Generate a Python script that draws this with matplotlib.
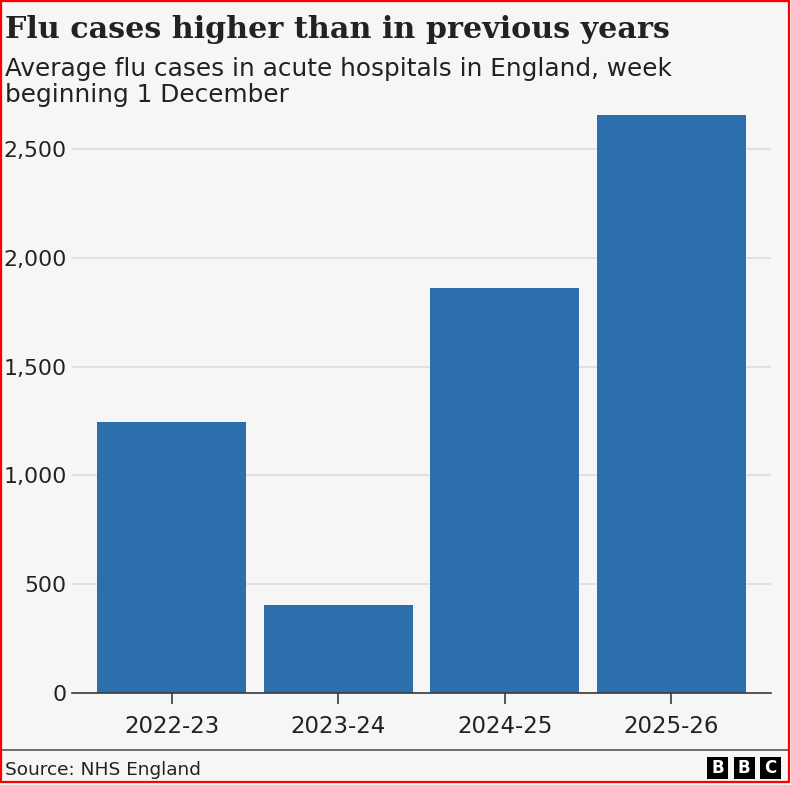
import matplotlib.pyplot as plt
from matplotlib.patches import Rectangle
from matplotlib.ticker import FuncFormatter

# data
seasons = ['2022-23', '2023-24', '2024-25', '2025-26']
cases = [1245, 404, 1861, 2656]
yticks = [0, 500, 1000, 1500, 2000, 2500]

W, H = 791, 785
fig = plt.figure(figsize=(W / 100, H / 100), dpi=100)
fig.patch.set_facecolor('white')

# light grey card with red frame
fig.patches.append(Rectangle((0, 0), 789 / W, 1, transform=fig.transFigure,
                             facecolor='#f6f6f6', edgecolor='none', zorder=-2))
fig.patches.append(Rectangle((1 / W, 3 / H), 787.5 / W, 781 / H, transform=fig.transFigure,
                             facecolor='none', edgecolor='#ff0000', lw=1.6, zorder=10))

ax = fig.add_axes([72 / W, 1 - 693 / H, (771 - 72) / W, (693 - 105.5) / H])
ax.set_facecolor('none')

x = range(len(seasons))
ax.bar(x, cases, width=0.894, color='#2d6ead', zorder=3)

ax.set_xlim(-0.6, 3.6)
ax.set_ylim(0, 2700)
ax.set_yticks(yticks)
ax.yaxis.set_major_formatter(FuncFormatter(lambda v, p: f'{int(v):,}'))
ax.set_xticks(list(x))
ax.set_xticklabels(seasons)

ax.grid(axis='y', color='#dcdcdc', lw=1.2, zorder=0)
for s in ['top', 'right', 'left']:
    ax.spines[s].set_visible(False)
ax.spines['bottom'].set_color('#3a3a3a')
ax.spines['bottom'].set_linewidth(1.2)
ax.spines['bottom'].set_zorder(4)

ax.tick_params(axis='y', length=0, pad=4, labelsize=15.8, labelcolor='#222222')
ax.tick_params(axis='x', length=8, width=1.2, color='#3a3a3a', pad=8,
               labelsize=16.5, labelcolor='#222222')

# titles
fig.text(5 / W, 1 - 38 / H, 'Flu cases higher than in previous years',
         family='DejaVu Serif', weight='bold', fontsize=21.7, color='#222222',
         va='baseline', ha='left')
fig.text(5 / W, 1 - 76 / H, 'Average flu cases in acute hospitals in England, week',
         fontsize=17.8, color='#222222', va='baseline', ha='left')
fig.text(5 / W, 1 - 102 / H, 'beginning 1 December',
         fontsize=17.8, color='#222222', va='baseline', ha='left')

# footer
fig.add_artist(plt.Line2D([0, 788 / W], [1 - 750 / H, 1 - 750 / H],
                          transform=fig.transFigure, color='#555555', lw=1.2))
fig.text(5 / W, 1 - 775 / H, 'Source: NHS England', fontsize=13.3, color='#222222',
         va='baseline', ha='left')

for i, letter in enumerate('BBC'):
    x0 = 707 + i * 26.5
    fig.patches.append(Rectangle((x0 / W, 1 - 779 / H), 21 / W, 22 / H,
                                 transform=fig.transFigure, facecolor='black',
                                 edgecolor='none'))
    fig.text((x0 + 10.5) / W, 1 - 768 / H, letter, color='white', weight='bold',
             fontsize=12, ha='center', va='center')

fig.savefig('out.png', dpi=100, facecolor=fig.get_facecolor())
